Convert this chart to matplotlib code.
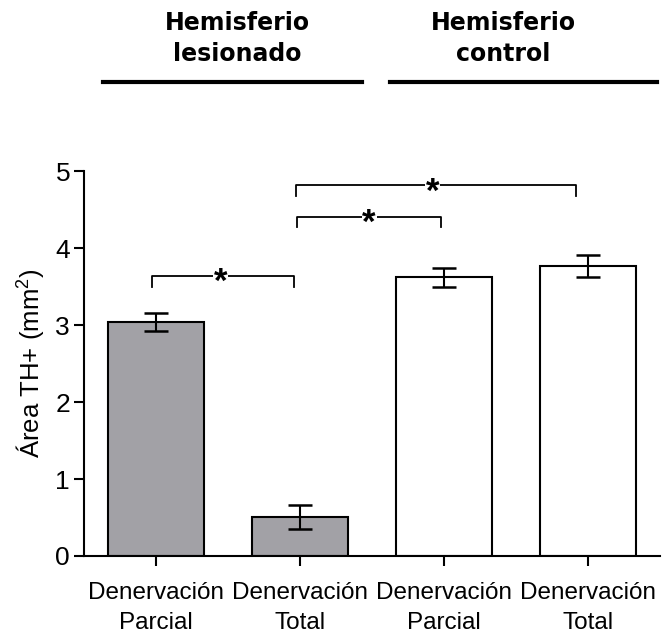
import matplotlib
matplotlib.use("Agg")
from matplotlib import pyplot as plt

# data
categories = ["Denervación\nParcial", "Denervación\nTotal",
              "Denervación\nParcial", "Denervación\nTotal"]
means = [3.04, 0.51, 3.62, 3.77]
errors = [0.12, 0.155, 0.12, 0.145]
bar_colors = ["#a2a1a6", "#a2a1a6", "white", "white"]

# significance brackets: (x_left, x_right, height, star_x)
brackets = [(-0.03, 0.96, 3.64, 0.45),
            (0.98, 1.98, 4.41, 1.48),
            (0.97, 2.92, 4.82, 1.92)]
leg = 0.14

group_labels = ["Hemisferio\nlesionado", "Hemisferio\ncontrol"]

plt.rcParams['font.family'] = ['Liberation Sans', 'DejaVu Sans']
plt.rcParams['mathtext.fontset'] = 'custom'
plt.rcParams['mathtext.rm'] = 'Liberation Sans'

fig = plt.figure(figsize=(6.68, 6.36), dpi=100)
ax = fig.add_axes([0.1257, 0.1258, 0.988 - 0.1257, 0.731 - 0.1258])

x = list(range(len(means)))
ax.bar(x, means, width=0.667, color=bar_colors, edgecolor="black", linewidth=1.5, zorder=2)
ax.errorbar(x, means, yerr=errors, fmt="none", ecolor="black", elinewidth=1.5,
            capsize=8.6, capthick=1.8, zorder=3)

# brackets with stars
for xl, xr, h, sx in brackets:
    ax.plot([xl, xl, xr, xr], [h - leg, h, h, h - leg], color="black", lw=1.3, zorder=2)
    ax.text(sx, h - 0.09, "*", ha="center", va="center", fontsize=25, fontweight="bold",
            bbox=dict(facecolor="white", edgecolor="none", pad=0.5), zorder=4)

ax.set_xlim(-0.5, 3.5)
ax.set_ylim(0, 5)
ax.set_yticks([0, 1, 2, 3, 4, 5])
ax.set_xticks(x)
ax.set_xticklabels(categories, fontsize=17.5, linespacing=1.45)
ax.tick_params(axis="y", labelsize=19, length=7, width=1.5, pad=3)
ax.tick_params(axis="x", length=7, width=1.5, pad=12)
ax.set_ylabel("Área TH+ (mm$^2$)", fontsize=18.5, labelpad=6)

for s in ["top", "right"]:
    ax.spines[s].set_visible(False)
for s in ["left", "bottom"]:
    ax.spines[s].set_linewidth(1.5)

# group headers above the plot
fig.text(0.355, 0.939, group_labels[0], ha="center", va="center", fontsize=17,
         fontweight="bold", family="DejaVu Sans", linespacing=1.35)
fig.text(0.753, 0.939, group_labels[1], ha="center", va="center", fontsize=17,
         fontweight="bold", family="DejaVu Sans", linespacing=1.35)
fig.add_artist(plt.Line2D([0.154, 0.542], [0.871, 0.871], color="black", lw=3))
fig.add_artist(plt.Line2D([0.584, 0.983], [0.871, 0.871], color="black", lw=3))

fig.savefig("out.png", dpi=100)
